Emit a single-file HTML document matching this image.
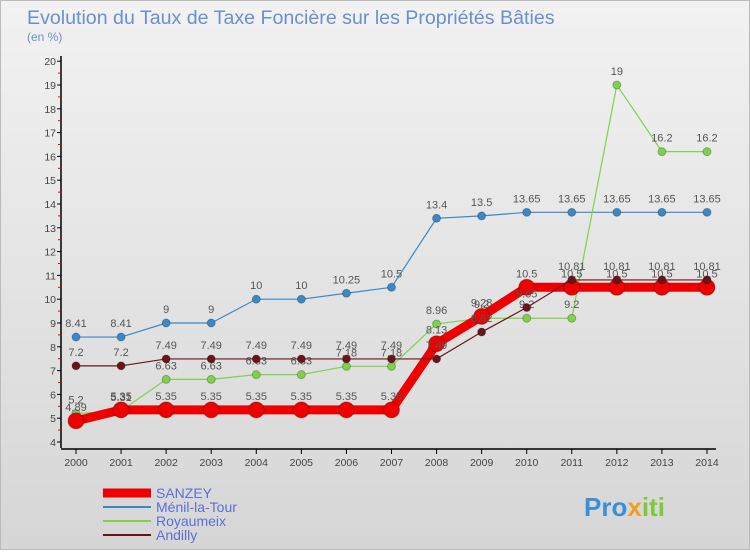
<!DOCTYPE html>
<html><head><meta charset="utf-8"><style>
body{margin:0;width:750px;height:550px;overflow:hidden;font-family:"Liberation Sans",sans-serif}
#wrap{position:relative;width:748px;height:548px;border:1px solid #bbb;background:linear-gradient(#f2f2f2,#d6d6d6)}
</style></head><body>
<div id="wrap">
<svg id="chart" width="748" height="548"></svg>
</div>
<script>
const years=[2000,2001,2002,2003,2004,2005,2006,2007,2008,2009,2010,2011,2012,2013,2014];
const sanzey=[4.89,5.35,5.35,5.35,5.35,5.35,5.35,5.35,8.13,9.28,10.5,10.5,10.5,10.5,10.5];
const menil=[8.41,8.41,9,9,10,10,10.25,10.5,13.4,13.5,13.65,13.65,13.65,13.65,13.65];
const royaumeix=[5.2,5.31,6.63,6.63,6.83,6.83,7.18,7.18,8.96,9.2,9.2,9.2,19,16.2,16.2];
const andilly=[7.2,7.2,7.49,7.49,7.49,7.49,7.49,7.49,7.49,8.62,9.65,10.81,10.81,10.81,10.81];
const yTicks=[4,5,6,7,8,9,10,11,12,13,14,15,16,17,18,19,20];
const seriesNames=["SANZEY","Ménil-la-Tour","Royaumeix","Andilly"];
const NS="http://www.w3.org/2000/svg";
const svg=document.getElementById('chart');
const x=i=>75+i*45.07;
const y=v=>441-(v-4)*23.8;
function mk(t,a,p){const e=document.createElementNS(NS,t);for(const k in a)e.setAttribute(k,a[k]);(p||svg).appendChild(e);return e;}
let t=mk('text',{x:26,y:23,'font-size':19.6,fill:'#6a8fd0'});t.textContent="Evolution du Taux de Taxe Foncière sur les Propriétés Bâties";

t=mk('text',{x:26,y:40,'font-size':12,fill:'#6a8fd0'});t.textContent="(en %)";

let ax=mk('line',{x1:60,y1:y(4)+6,x2:60,y2:55,stroke:'#000','stroke-width':1.5});

ax=mk('line',{x1:60,y1:448,x2:715,y2:448,stroke:'#000','stroke-width':1.5});

yTicks.forEach(v=>{
 mk('line',{x1:56,y1:y(v),x2:60,y2:y(v),stroke:'#000'});
 if(v<20)mk('line',{x1:57,y1:y(v+0.5),x2:60,y2:y(v+0.5),stroke:'#e00'});
 const l=mk('text',{x:55,y:y(v)+4,'font-size':10.5,fill:'#444','text-anchor':'end'});l.textContent=v;
 
});
years.forEach((yr,i)=>{
 mk('line',{x1:x(i),y1:448,x2:x(i),y2:453,stroke:'#000'});
 const l=mk('text',{x:x(i),y:465,'font-size':10.5,fill:'#444','text-anchor':'middle'});l.textContent=yr;
 
});
function series(data,color,w,r,name){
 const g=mk('g',{});
 mk('polyline',{points:data.map((v,i)=>x(i)+','+y(v)).join(' '),fill:'none',stroke:color,'stroke-width':w},g);
 data.forEach((v,i)=>{
  const c=mk('circle',{cx:x(i),cy:y(v),r:r,fill:color,stroke:'rgba(0,0,0,0.25)'},g);
  
  const l=mk('text',{x:x(i),y:y(v)-10,'font-size':11,fill:'#555','text-anchor':'middle'},g);l.textContent=v;
 });
}
series(menil,'#3a88c8',1.2,4,'menil-series');
series(royaumeix,'#7ed24a',1.2,4,'royaumeix-series');
series(sanzey,'#ee0000',9,8,'sanzey-series');
series(andilly,'#6b1418',1.2,4,'andilly-series');
const lc=['#ee0000','#3a88c8','#7ed24a','#6b1418'],lw=[9,2,2,2];
seriesNames.forEach((n,i)=>{
 const yy=492+i*14;
 const g=mk('g',{});
 mk('line',{x1:102,y1:yy,x2:150,y2:yy,stroke:lc[i],'stroke-width':lw[i]},g);
 const l=mk('text',{x:155,y:yy+5,'font-size':14,fill:'#5b6fd4'},g);l.textContent=n;
});
const p=mk('text',{x:583,y:515,'font-size':26,'font-weight':'bold',fill:'#3a8fd8'});

const s1=mk('tspan',{},p);s1.textContent="Pro";
const s2=mk('tspan',{fill:'#f0a020'},p);s2.textContent="x";
const s3=mk('tspan',{fill:'#7ec83a'},p);s3.textContent="iti";
</script>
</body></html>
